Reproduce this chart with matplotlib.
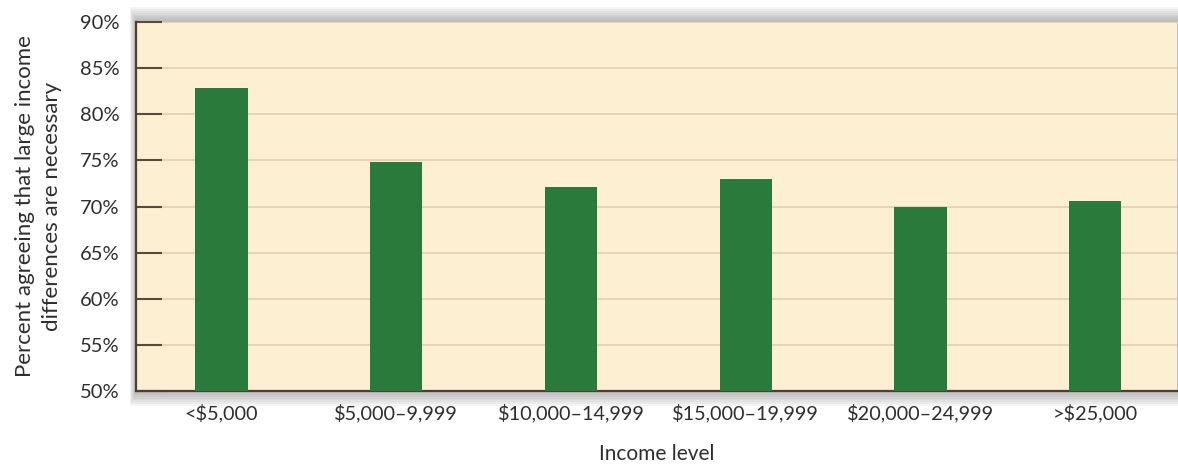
import matplotlib.pyplot as plt
import matplotlib.patches as mpatches
from matplotlib.ticker import FuncFormatter

# data
income_levels = ["<$5,000", "$5,000\u20139,999", "$10,000\u201314,999",
                 "$15,000\u201319,999", "$20,000\u201324,999", ">$25,000"]
pct_agree = [82.8, 74.8, 72.1, 73.0, 70.0, 70.6]
y_ticks = [50, 55, 60, 65, 70, 75, 80, 85, 90]

plt.rcParams["font.family"] = ["Lato", "DejaVu Sans"]

fig = plt.figure(figsize=(11.78, 4.68), dpi=100)
ax = fig.add_axes([0.1154, 0.1645, 0.884, 0.7885])

# soft drop shadow behind the plot area
for i in range(8):
    d = (8 - i) * 0.0016
    fig.patches.append(mpatches.Rectangle(
        (0.1154 - d * 0.4, 0.1645 - d * 2.5), 0.884 + d, 0.7885 + d * 5,
        transform=fig.transFigure, facecolor="#707070", alpha=0.07,
        edgecolor="none", zorder=0))

ax.set_facecolor("#FDEFD2")
ax.set_zorder(1)

x = range(len(income_levels))
ax.bar(x, pct_agree, width=0.3, color="#2A7A3B", zorder=3)

ax.set_ylim(50, 90)
ax.set_xlim(-0.49, 5.47)
ax.set_yticks(y_ticks)
ax.yaxis.set_major_formatter(FuncFormatter(lambda v, _: f"{v:.0f}%"))
ax.set_xticks(list(x))
ax.set_xticklabels(income_levels)

ax.grid(axis="y", color="#E3CFAE", linewidth=1.2, zorder=1)
ax.tick_params(axis="y", direction="in", length=19, width=1.5, color="#5A4A3A",
               labelsize=14.5, labelcolor="#2E2E2E", pad=12)
ax.tick_params(axis="x", length=0, labelsize=14.3, labelcolor="#2E2E2E", pad=9)

for side in ["top", "right"]:
    ax.spines[side].set_visible(False)
for side in ["left", "bottom"]:
    ax.spines[side].set_color("#4A4038")
    ax.spines[side].set_linewidth(1.6)

ax.set_ylabel("Percent agreeing that large income\ndifferences are necessary",
              fontsize=16, color="#2E2E2E", labelpad=13, linespacing=1.4)
ax.set_xlabel("Income level", fontsize=15, color="#2E2E2E", labelpad=16)

fig.savefig("out.png", dpi=100)
